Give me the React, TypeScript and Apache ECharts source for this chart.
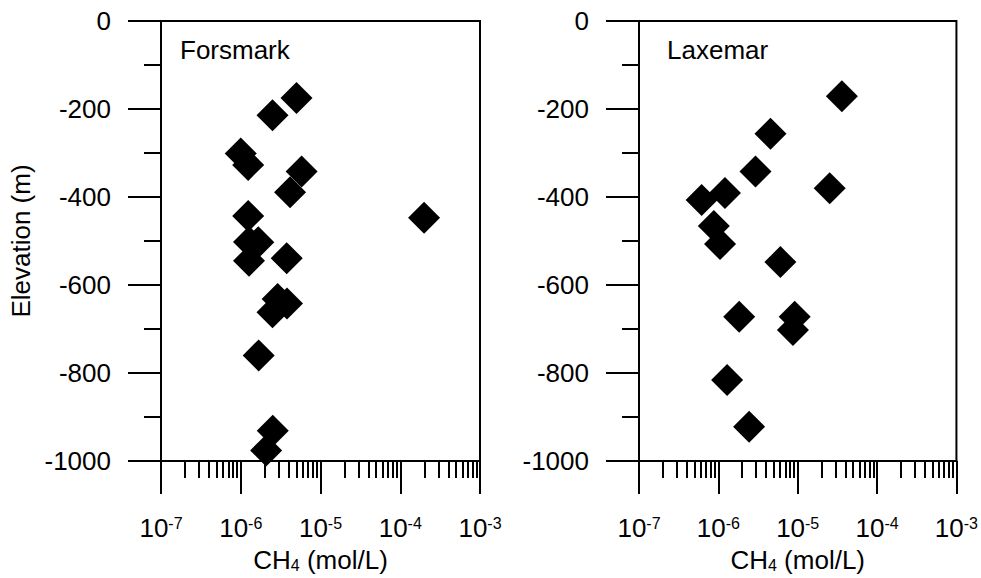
import React, { useEffect, useRef } from "react";
import * as echarts from "echarts";

// Forsmark: [CH4 (mol/L), elevation (m)]
const forsmarkCH4 = [5.0e-6, 2.5e-6, 1.0e-6, 1.24e-6, 5.8e-6, 4.15e-6, 1.24e-6, 1.66e-6, 1.27e-6, 1.27e-6, 3.77e-6, 2.9e-6, 3.8e-6, 2.5e-6, 1.68e-6, 2.52e-6, 2.08e-6, 1.99e-4];
const forsmarkElev = [-175, -214, -301, -327, -342, -389, -443, -503, -502, -545, -539, -632, -642, -662, -760, -931, -976, -447];

// Laxemar
const laxemarCH4 = [3.6e-5, 4.54e-6, 2.94e-6, 2.53e-5, 6.15e-7, 1.21e-6, 8.77e-7, 1.05e-6, 6.05e-6, 1.83e-6, 9.16e-6, 8.7e-6, 1.29e-6, 2.44e-6];
const laxemarElev = [-171, -256, -342, -380, -407, -391, -466, -507, -548, -672, -672, -702, -816, -922];

const panelTitles = ["Forsmark", "Laxemar"];
const xMin = 1e-7;
const xMax = 1e-3;
const decadeExponents = [-7, -6, -5, -4];
const minorMultipliers = [2, 3, 4, 5, 6, 7, 8, 9];
const yMin = -1000;
const yMax = 0;
const yInterval = 200;

const FONT = "'Liberation Sans', Arial, Helvetica, sans-serif";

export default function App() {
  const ref = useRef<HTMLDivElement>(null);

  useEffect(() => {
    if (!ref.current) return;
    const chart = echarts.init(ref.current, null, { renderer: "svg" });

    const minorLog: number[] = [];
    decadeExponents.forEach((e) =>
      minorMultipliers.forEach((m) => minorLog.push(e + Math.log10(m)))
    );

    const grids = [
      { left: 161, top: 21, width: 319, height: 444 },
      { left: 639, top: 21, width: 318, height: 444 },
    ];

    const lineStyle = { color: "#000", width: 2 };
    const labelRich = {
      b: { fontSize: 26, fontFamily: FONT, color: "#000", lineHeight: 26 },
      s: { fontSize: 16, fontFamily: FONT, color: "#000", lineHeight: 16, verticalAlign: "top" },
      sub: { fontSize: 16, fontFamily: FONT, color: "#000", lineHeight: 16, verticalAlign: "bottom" },
    };

    const xAxes: any[] = [];
    const yAxes: any[] = [];
    grids.forEach((_, i) => {
      xAxes.push({
        type: "log",
        logBase: 10,
        gridIndex: i,
        position: "bottom",
        min: xMin,
        max: xMax,
        axisLine: { show: true, onZero: false, lineStyle },
        axisTick: { show: true, length: 33, lineStyle },
        splitLine: { show: false },
        axisLabel: {
          margin: 54,
          formatter: (v: number) => `{b|10}{s|${Math.round(Math.log10(v))}}`,
          rich: labelRich,
        },
        name: "{b|CH}{sub|4}{b| (mol/L)}",
        nameLocation: "middle",
        nameGap: 86,
        nameTextStyle: { rich: labelRich },
      });
      xAxes.push({
        type: "value",
        gridIndex: i,
        position: "bottom",
        min: -7,
        max: -3,
        axisLine: { show: false, onZero: false },
        axisTick: { show: true, length: 17, lineStyle, customValues: minorLog },
        axisLabel: { show: false },
        splitLine: { show: false },
      });
      yAxes.push({
        type: "value",
        gridIndex: i,
        min: yMin,
        max: yMax,
        interval: yInterval,
        axisLine: { show: true, onZero: false, lineStyle },
        axisTick: { show: true, length: 33, lineStyle },
        minorTick: { show: true, splitNumber: 2, length: 17, lineStyle },
        splitLine: { show: false },
        minorSplitLine: { show: false },
        axisLabel: {
          fontSize: 26,
          fontFamily: FONT,
          color: "#000",
          margin: 50,
          formatter: (v: number) => String(v),
        },
        ...(i === 0
          ? {
              name: "Elevation (m)",
              nameLocation: "middle",
              nameGap: 127,
              nameRotate: 90,
              nameTextStyle: { fontSize: 26, fontFamily: FONT, color: "#000" },
            }
          : {}),
      });
    });

    const makeData = (xs: number[], ys: number[]) => xs.map((x, k) => [x, ys[k]]);

    chart.setOption({
      animation: false,
      backgroundColor: "#fff",
      grid: grids.map((g) => ({ ...g, show: true, borderColor: "#000", borderWidth: 2, backgroundColor: "transparent" })),
      xAxis: xAxes,
      yAxis: yAxes,
      graphic: [
        { type: "text", left: 180, top: 37, style: { text: panelTitles[0], fontSize: 26, fontFamily: FONT, fill: "#000" } },
        { type: "text", left: 667, top: 37, style: { text: panelTitles[1], fontSize: 26, fontFamily: FONT, fill: "#000" } },
      ],
      series: [
        {
          type: "scatter",
          xAxisIndex: 0,
          yAxisIndex: 0,
          symbol: "diamond",
          symbolSize: 32,
          itemStyle: { color: "#000", opacity: 1 },
          data: makeData(forsmarkCH4, forsmarkElev),
          z: 5,
        },
        {
          type: "scatter",
          xAxisIndex: 2,
          yAxisIndex: 1,
          symbol: "diamond",
          symbolSize: 32,
          itemStyle: { color: "#000", opacity: 1 },
          data: makeData(laxemarCH4, laxemarElev),
          z: 5,
        },
      ],
    });

    return () => chart.dispose();
  }, []);

  return (
    <div
      ref={ref}
      style={{ position: "fixed", left: 0, top: 0, width: 981, height: 578 }}
    />
  );
}
